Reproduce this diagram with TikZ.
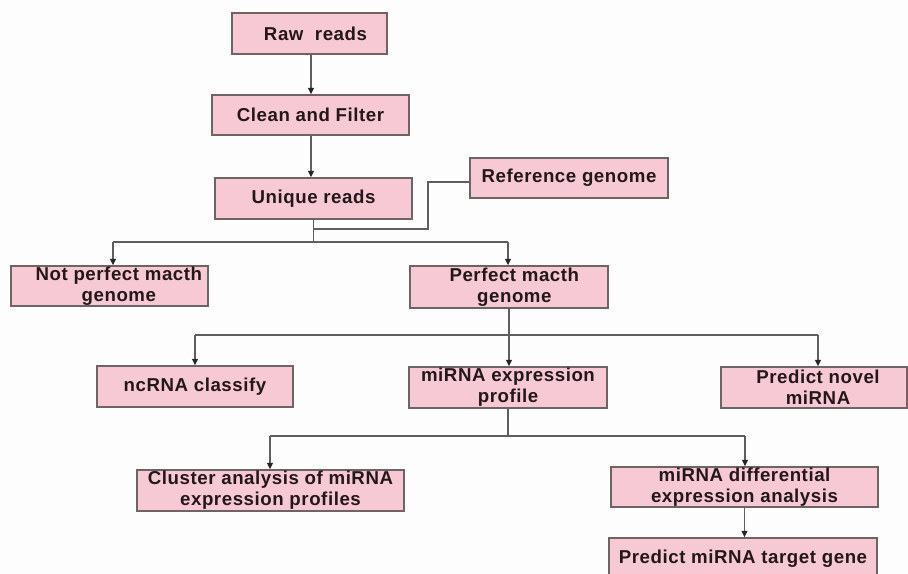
\documentclass[tikz,border=0pt]{standalone}
\usepackage{fontspec}
\setmainfont[LetterSpace=3]{Liberation Sans}
\usetikzlibrary{arrows.meta}
\definecolor{boxpink}{HTML}{F7C9D5}
\definecolor{boxedge}{HTML}{6E6466}
\definecolor{lin}{HTML}{5E5E5E}
\definecolor{txt}{HTML}{231719}
\definecolor{bg}{HTML}{FDFDFD}
\begin{document}
\begin{tikzpicture}[x=0.75pt,y=-0.75pt,
  box/.style={draw=boxedge, fill=boxpink, line width=1.1pt, inner sep=0pt, align=center,
    font=\fontsize{14}{15.5}\selectfont\bfseries, text=txt},
  bx/.style 2 args={minimum width=#1*0.75pt, minimum height=#2*0.75pt},
  conn/.style={draw=lin, line width=0.9pt},
  arr/.style={conn, -{Triangle[width=4.4pt,length=4.8pt,color=black!85]}}]
\fill[bg] (0,0) rectangle (908,574);
\useasboundingbox (0,0) rectangle (908,574);

\node[box,bx={155}{41}] (raw) at (309.5,33.5) {\hspace*{9pt}Raw\ \ reads};
\node[box,bx={197}{40}] (clean) at (310.5,115) {Clean and Filter};
\node[box,bx={197}{41}] (uniq) at (313.5,198.5) {Unique reads};
\node[box,bx={198}{40}] (ref) at (569,178) {Reference genome};
\node[box,bx={197}{40}] (notp) at (109.5,286) {\hspace*{14pt}Not perfect macth\\\hspace*{14pt}genome};
\node[box,bx={198}{42}] (perf) at (509,287) {\hspace*{8pt}Perfect macth\\\hspace*{8pt}genome};
\node[box,bx={196}{41}] (nc) at (195,386.5) {ncRNA classify};
\node[box,bx={198}{41}] (mir) at (508,387.5) {miRNA expression\\profile};
\node[box,bx={186}{41}] (novel) at (814,387.5) {\hspace*{6pt}Predict novel\\\hspace*{6pt}miRNA};
\node[box,bx={267}{41}] (clus) at (270.5,490.5) {Cluster analysis of miRNA\\expression profiles};
\node[box,bx={267}{40}] (diff) at (744.5,487) {miRNA differential\\expression analysis};
\node[box,bx={268}{42}] (targ) at (743,559) {Predict miRNA target gene};

\coordinate (a1) at (311,0);
\draw[arr] (raw.south -| a1) -- (clean.north -| a1);
\draw[arr] (clean.south -| a1) -- (uniq.north -| a1);

\coordinate (j0) at (313.5,229);
\coordinate (r1) at (428,229);
\coordinate (b1l) at (113,242);
\coordinate (b1r) at (508,242);
\draw[conn] (uniq.south) -- (uniq.south |- b1l);
\draw[conn] ([yshift=-3pt]ref.west) -| (r1) -- (j0);
\draw[conn] (b1l) -- (b1r);
\draw[arr] (b1l) -- (b1l |- notp.north);
\draw[arr] (b1r) -- (b1r |- perf.north);

\coordinate (b2l) at (195,335);
\coordinate (b2r) at (818,335);
\draw[conn] (perf.south) -- (perf.south |- b2l);
\draw[conn] (b2l) -- (b2r);
\draw[arr] (b2l) -- (b2l |- nc.north);
\draw[arr] (perf.south |- b2l) -- (perf.south |- mir.north);
\draw[arr] (b2r) -- (b2r |- novel.north);

\coordinate (b3l) at (270,436);
\coordinate (b3r) at (745,436);
\draw[conn] (mir.south) -- (mir.south |- b3l);
\draw[conn] (b3l) -- (b3r);
\draw[arr] (b3l) -- (b3l |- clus.north);
\draw[arr] (b3r) -- (b3r |- diff.north);
\draw[arr] (diff.south) -- (diff.south |- targ.north);
\end{tikzpicture}
\end{document}
